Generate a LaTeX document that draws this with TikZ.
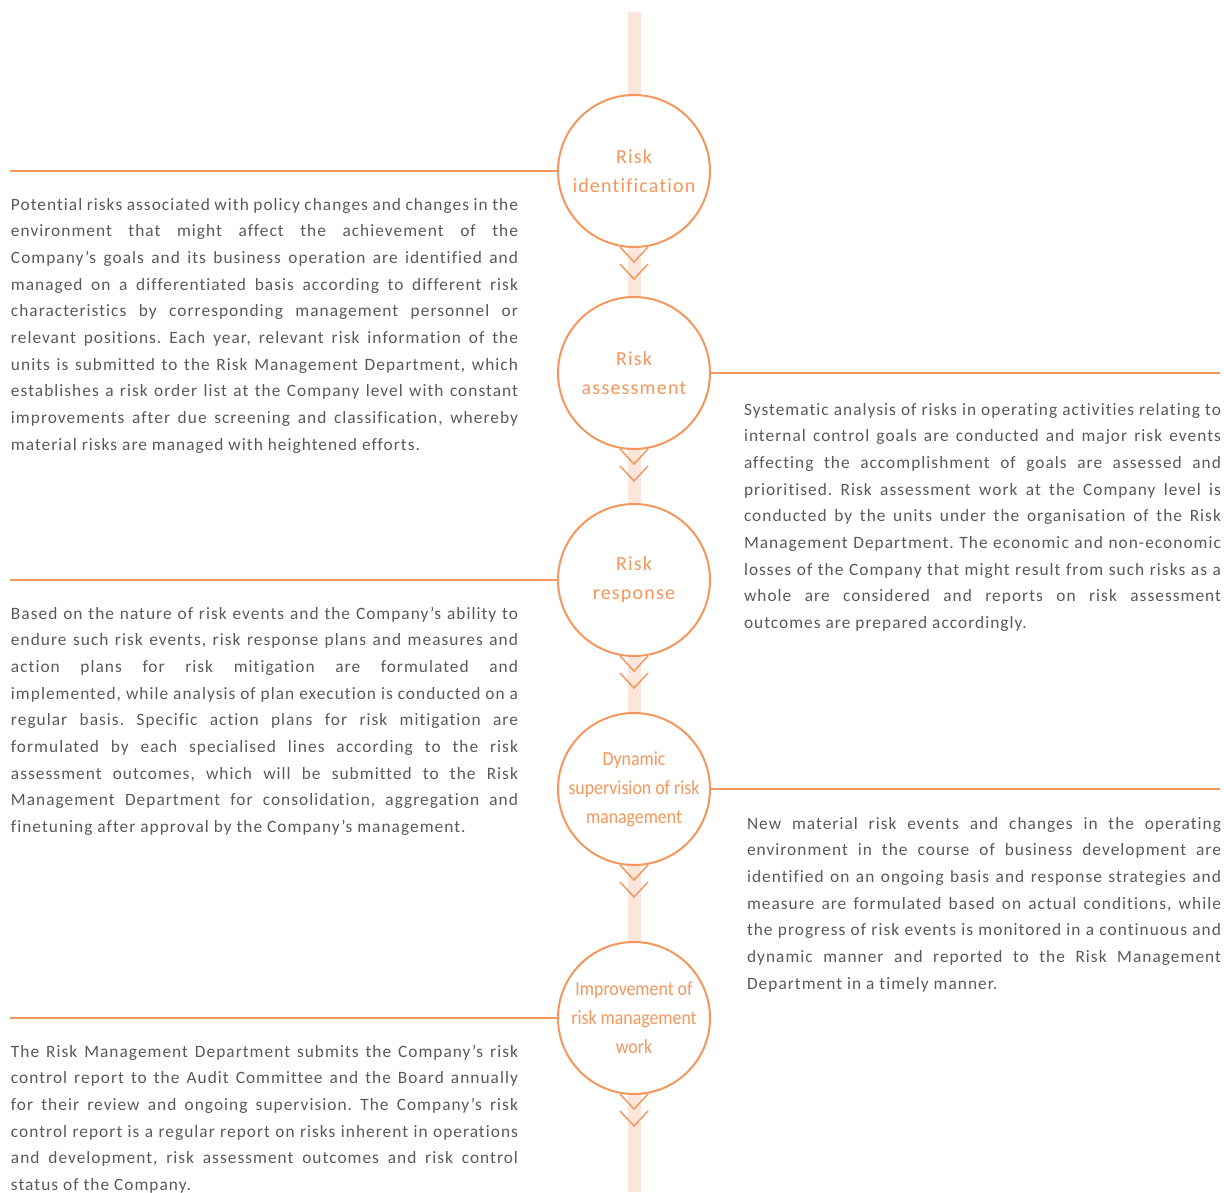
\documentclass[tikz,border=0pt]{standalone}
\usepackage{fontspec}
\setmainfont{Carlito}[LetterSpace=6,Ligatures=NoCommon]
\newfontfamily\narrowfont{Carlito}[FakeStretch=0.89,LetterSpace=0,Ligatures=NoCommon]
\usetikzlibrary{calc}
\definecolor{riskorange}{HTML}{F4975C}
\definecolor{bandpink}{HTML}{FCE6DB}
\definecolor{bodygray}{HTML}{595959}
\hyphenpenalty=10000
\frenchspacing

\begin{document}
\begin{tikzpicture}[x=0.75pt,y=-0.75pt,line width=1.5pt,main node/.style={circle,draw=riskorange,fill=white,minimum size=114pt,inner sep=0pt,align=center,text=riskorange,font=\fontsize{15}{21.75}\selectfont},narrow/.style={font=\fontsize{15}{21.75}\narrowfont},body/.style={anchor=north west,inner sep=0pt,align=justify,text=bodygray,font=\fontsize{13}{20}\selectfont},link/.style={draw=riskorange,line width=1.5pt},chevron/.style={draw=riskorange,line width=1.1pt}]
        \useasboundingbox (0,0) rectangle (1224,1192);
        \fill[bandpink] (628,12) rectangle (641,1192);

        \node[main node] (1) at (634,171) {Risk\\identification};
        \node[main node] (2) at (634,373) {Risk\\assessment};
        \node[main node] (3) at (634,580) {Risk\\response};
        \node[main node,narrow] (4) at (634,789) {Dynamic\\supervision of risk\\management};
        \node[main node,narrow] (5) at (634,1018) {Improvement of\\risk management\\work};

        \coordinate (l1) at (10,171);
        \coordinate (r2) at (1220,373);
        \coordinate (l3) at (10,580);
        \coordinate (r4) at (1220,789);
        \coordinate (l5) at (10,1018);
        \path[link] (l1) edge (1.west) (2.east) edge (r2) (l3) edge (3.west) (4.east) edge (r4) (l5) edge (5.west);

        \foreach \n in {1,...,5}{
            \draw[chevron] ($(\n.south)+(-14,-1)$) -- ($(\n.south)+(0,14)$) -- ($(\n.south)+(14,-1)$);
            \draw[chevron] ($(\n.south)+(-14,16)$) -- ($(\n.south)+(0,31)$) -- ($(\n.south)+(14,16)$);
        }

        \node[body,text width=380.25pt] (t1) at (10,197) {Potential risks associated with policy changes and changes in the\linebreak environment that might affect the achievement of the\linebreak Company’s goals and its business operation are identified and\linebreak managed on a differentiated basis according to different risk\linebreak characteristics by corresponding management personnel or\linebreak relevant positions. Each year, relevant risk information of the\linebreak units is submitted to the Risk Management Department, which\linebreak establishes a risk order list at the Company level with constant\linebreak improvements after due screening and classification, whereby\linebreak material risks are managed with heightened efforts.};
        \node[body,text width=357.75pt] (t2) at (743,402) {Systematic analysis of risks in operating activities relating to\linebreak internal control goals are conducted and major risk events\linebreak affecting the accomplishment of goals are assessed and\linebreak prioritised. Risk assessment work at the Company level is\linebreak conducted by the units under the organisation of the Risk\linebreak Management Department. The economic and non-economic\linebreak losses of the Company that might result from such risks as a\linebreak whole are considered and reports on risk assessment\linebreak outcomes are prepared accordingly.};
        \node[body,text width=380.25pt] (t3) at (10,606) {Based on the nature of risk events and the Company’s ability to\linebreak endure such risk events, risk response plans and measures and\linebreak action plans for risk mitigation are formulated and\linebreak implemented, while analysis of plan execution is conducted on a\linebreak regular basis. Specific action plans for risk mitigation are\linebreak formulated by each specialised lines according to the risk\linebreak assessment outcomes, which will be submitted to the Risk\linebreak Management Department for consolidation, aggregation and\linebreak finetuning after approval by the Company’s management.};
        \node[body,text width=355.5pt] (t4) at (746,816) {New material risk events and changes in the operating\linebreak environment in the course of business development are\linebreak identified on an ongoing basis and response strategies and\linebreak measure are formulated based on actual conditions, while\linebreak the progress of risk events is monitored in a continuous and\linebreak dynamic manner and reported to the Risk Management\linebreak Department in a timely manner.};
        \node[body,text width=380.25pt] (t5) at (10,1044) {The Risk Management Department submits the Company’s risk\linebreak control report to the Audit Committee and the Board annually\linebreak for their review and ongoing supervision. The Company’s risk\linebreak control report is a regular report on risks inherent in operations\linebreak and development, risk assessment outcomes and risk control\linebreak status of the Company.};
    \end{tikzpicture}
\end{document}
